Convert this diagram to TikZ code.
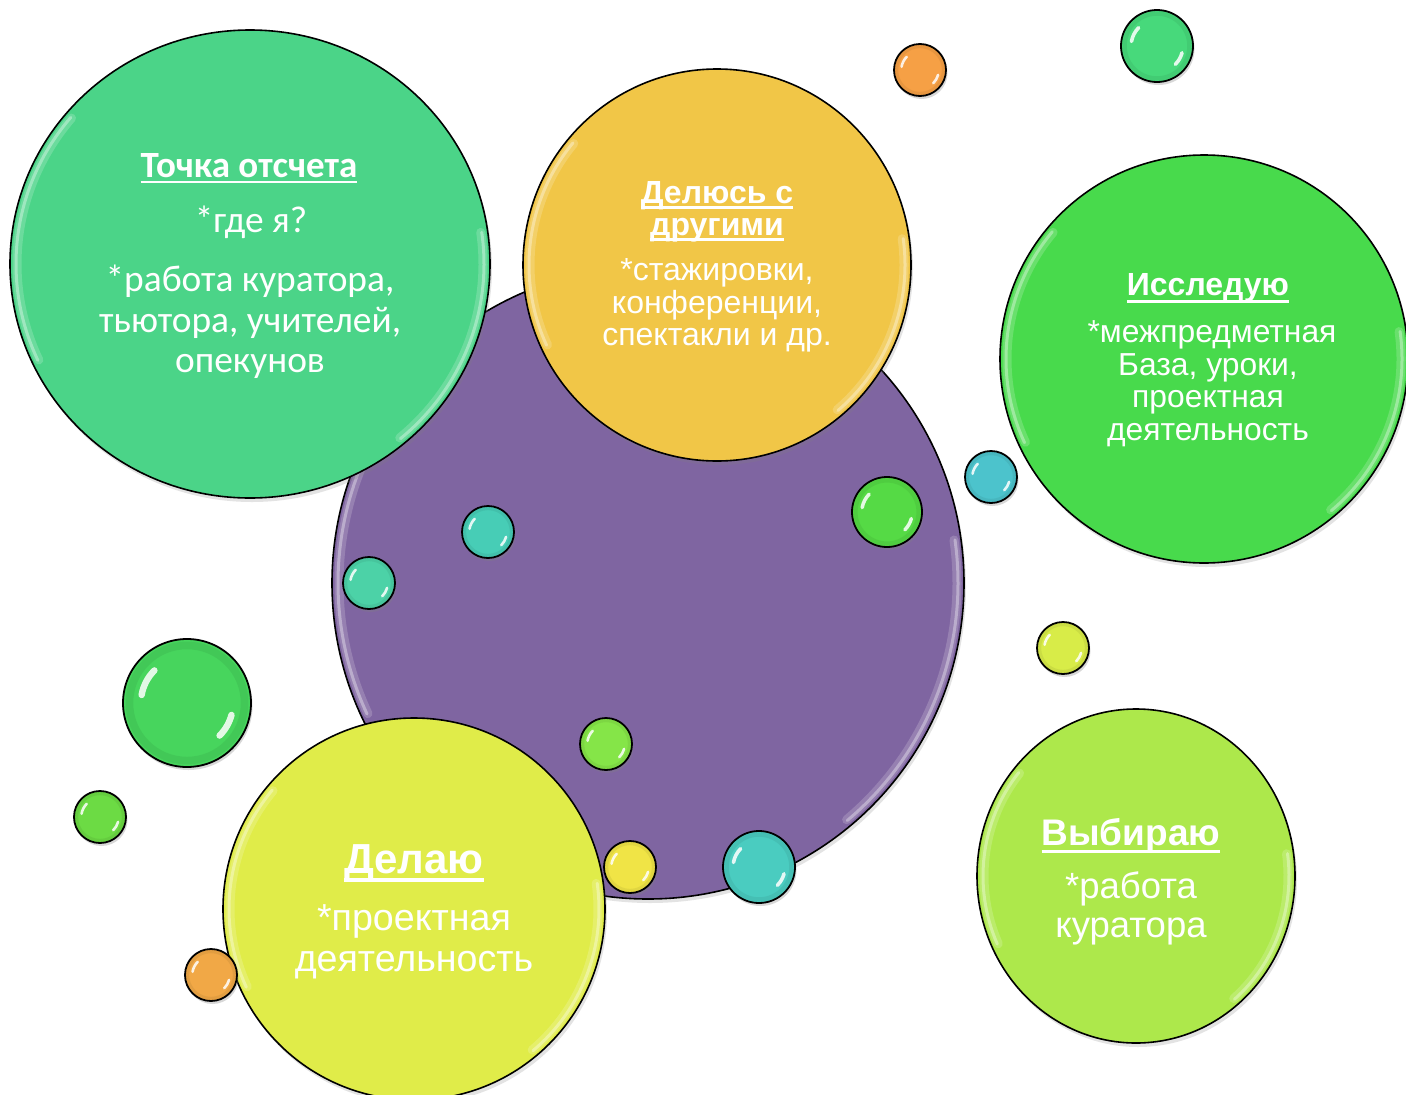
\documentclass[tikz,border=0pt]{standalone}
\usepackage{fontspec}
\setmainfont{Liberation Sans}
\newfontfamily\calfont{Carlito}
\usetikzlibrary{shadows,shapes.geometric}
\newcommand\ulx[3]{\setbox0\hbox{#3}\rlap{\rule[-#1]{\wd0}{#2}}\box0}
\definecolor{cTeal}{HTML}{4BD488}
\definecolor{cYel}{HTML}{F1C647}
\definecolor{cGreen}{HTML}{48DA4C}
\definecolor{cLime}{HTML}{E0EC49}
\definecolor{cLight}{HTML}{ADE84B}
\definecolor{cPurple}{HTML}{7F65A1}
\tikzset{
  bigc/.style={ellipse, draw=black, line width=1.6pt, inner sep=0pt,
     drop shadow={opacity=.22, shadow xshift=2pt, shadow yshift=-4pt}},
  smallc/.style={circle, draw=black, line width=1.8pt, inner sep=0pt,
     drop shadow={opacity=.3, shadow xshift=1.5pt, shadow yshift=-3pt}},
  hlbigA/.style={white, opacity=.18, line width=9pt, line cap=round},
  hlbigB/.style={white, opacity=.35, line width=3pt, line cap=round},
  hlsmall/.style={white, opacity=.85, line cap=round},
  txt/.style={text=white, anchor=base, inner sep=0pt, outer sep=0pt},
  ttl/.style={txt, font=\bfseries},
}
% name, x, y, rx, ry, colour
\newcommand\bigbub[6]{%
  \node[bigc, fill=#6, minimum width={2*#4pt}, minimum height={2*#5pt}] (#1) at (#2,#3) {};
  \foreach \sty/\d in {hlbigA/7, hlbigB/6}{%
    \draw[\sty] (#1.center) ++(140:{#4-\d} and {#5-\d}) arc[start angle=140, end angle=205, x radius={#4-\d}, y radius={#5-\d}];
    \draw[\sty] (#1.center) ++(-50:{#4-\d} and {#5-\d}) arc[start angle=-50, end angle=8, x radius={#4-\d}, y radius={#5-\d}];
  }
}
% name, x, y, r, colour (HTML)
\newcommand\smb[5]{%
  \definecolor{col#1}{HTML}{#5}%
  \node[smallc, fill=col#1, minimum size={2*#4pt}] (#1) at (#2,#3) {};
  \draw[col#1!60!black, opacity=.15, line width={0.12*#4pt}] (#1.center) circle ({0.9*#4});
  \draw[hlsmall, line width={0.1*#4pt}] (#1.center) ++(135:{0.72*#4}) arc[start angle=135, end angle=170, radius={0.72*#4}];
  \draw[hlsmall, line width={0.1*#4pt}] (#1.center) ++(-45:{0.72*#4}) arc[start angle=-45, end angle=-15, radius={0.72*#4}];
}
\begin{document}
\begin{tikzpicture}[x=1pt, y=1pt]
\useasboundingbox (0,0) rectangle (1406,-1095);
\fill[white] (0,0) rectangle (1406,-1095);
\clip (0,0) rectangle (1406,-1095);

% big circles
\bigbub{purple}{648}{-583}{316}{316}{cPurple}
\bigbub{tochka}{250}{-264}{240}{234}{cTeal}
\bigbub{delus}{717}{-265}{194}{196}{cYel}
\bigbub{issl}{1204}{-359}{204}{204}{cGreen}
\bigbub{delayu}{414}{-909}{191}{191}{cLime}
\bigbub{vybir}{1136}{-876}{159}{167}{cLight}

% small bubbles
\smb{b1}{920}{-70}{26}{F6A045}
\smb{b2}{1157}{-46}{36}{47D97B}
\smb{b3}{991}{-477}{26}{4CC3CC}
\smb{b4}{887}{-512}{35}{55DA45}
\smb{b5}{488}{-532}{26}{47CDB6}
\smb{b6}{369}{-583}{26}{4CD2A7}
\smb{b7}{187}{-703}{64}{47D55D}
\smb{b8}{1063}{-648}{26}{D8EC48}
\smb{b9}{606}{-744}{26}{85E548}
\smb{b10}{100}{-817}{26}{6CDB44}
\smb{b11}{630}{-867}{26}{F0E446}
\smb{b12}{759}{-867}{36}{4ACCC0}
\smb{b13}{211}{-975}{26}{F1A846}

% texts: Точка отсчета
\node[ttl, font=\calfont\bfseries\fontsize{37}{40}\selectfont] (t1) at (249,-177) {\ulx{6.2pt}{2.5pt}{Точка отсчета}};
\node[txt, font=\calfont\fontsize{37.4}{41}\selectfont] (t2) at (251,-232) {*где я?};
\node[txt, font=\calfont\fontsize{37.4}{41}\selectfont] (t3) at (250,-291) {*работа куратора,};
\node[txt, font=\calfont\fontsize{37.4}{41}\selectfont] (t4) at (250,-332) {тьютора, учителей,};
\node[txt, font=\calfont\fontsize{37.4}{41}\selectfont] (t5) at (250,-372) {опекунов};

% Делюсь с другими
\node[ttl, font=\bfseries\fontsize{32}{33}\selectfont] (d1) at (717,-203) {\ulx{5.5pt}{2.5pt}{Делюсь с}};
\node[ttl, font=\bfseries\fontsize{32}{33}\selectfont] (d2) at (717,-235) {\ulx{5.5pt}{2.5pt}{другими}};
\node[txt, font=\fontsize{32}{33}\selectfont] (d3) at (717,-280) {*стажировки,};
\node[txt, font=\fontsize{32}{33}\selectfont] (d4) at (717,-313) {конференции,};
\node[txt, font=\fontsize{32}{33}\selectfont] (d5) at (717,-345) {спектакли и др.};

% Исследую
\node[ttl, font=\bfseries\fontsize{32}{33}\selectfont] (i1) at (1208,-295) {\ulx{7.5pt}{3pt}{Исследую}};
\node[txt, font=\fontsize{31.8}{33}\selectfont] (i2) at (1212,-342) {*межпредметная};
\node[txt, font=\fontsize{31.8}{33}\selectfont] (i3) at (1208,-375) {База, уроки,};
\node[txt, font=\fontsize{31.8}{33}\selectfont] (i4) at (1208,-407) {проектная};
\node[txt, font=\fontsize{31.8}{33}\selectfont] (i5) at (1208,-440) {деятельность};

% Делаю
\node[ttl, font=\bfseries\fontsize{42}{44}\selectfont] (e1) at (414,-873) {\ulx{9pt}{4pt}{Делаю}};
\node[txt, font=\fontsize{37.6}{42}\selectfont] (e2) at (414,-930) {*проектная};
\node[txt, font=\fontsize{37.6}{42}\selectfont] (e3) at (414,-971) {деятельность};

% Выбираю
\node[ttl, font=\bfseries\fontsize{37}{40}\selectfont] (v1) at (1131,-845) {\ulx{8pt}{3.5pt}{Выбираю}};
\node[txt, font=\fontsize{36.5}{39}\selectfont] (v2) at (1131,-898) {*работа};
\node[txt, font=\fontsize{36.5}{39}\selectfont] (v3) at (1131,-937) {куратора};
\end{tikzpicture}
\end{document}
